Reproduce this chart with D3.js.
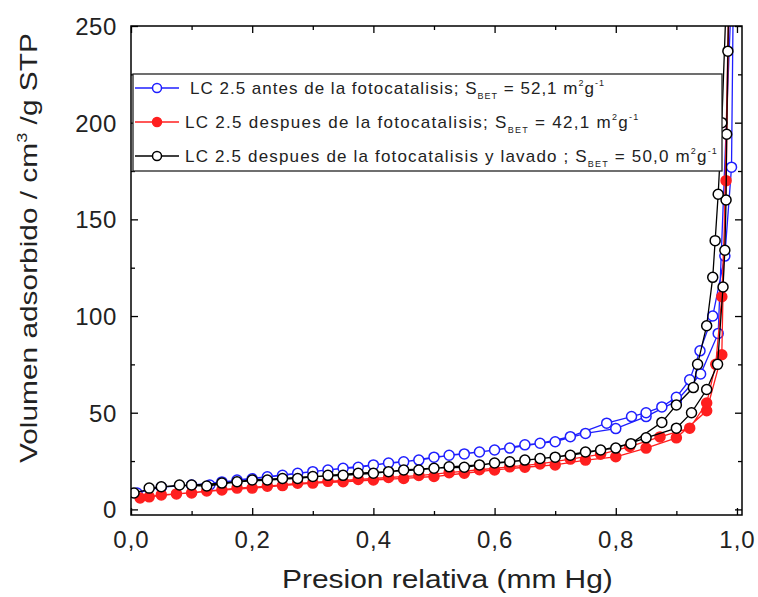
<!DOCTYPE html>
<html><head><meta charset="utf-8">
<script src="https://cdn.jsdelivr.net/npm/d3@7"></script>
<style>body{margin:0;background:#fff}svg{display:block}text{font-family:"Liberation Sans",Arial,sans-serif;fill:#222}</style>
</head><body><svg id="c" width="758" height="597"></svg>
<script>
// ---- data ----
const xTicks = [0, 0.2, 0.4, 0.6, 0.8, 1.0];
const yTicks = [0, 50, 100, 150, 200, 250];
const seriesNames = [
  "LC 2.5 antes de la fotocatalisis; S",
  "LC 2.5  despues de la fotocatalisis; S",
  "LC 2.5 despues de la fotocatalisis y lavado ; S"
];
const seriesBET = ["52,1", "42,1", "50,0"];
const seriesColors = ["#1f1fff", "#ff1f1f", "#000000"];

// blue: before photocatalysis (adsorption then desorption)
const blueP = [0.01,0.05,0.10,0.15,0.20,0.25,0.30,0.35,0.40,0.45,0.50,0.55,0.60,0.65,0.70,0.75,0.80,0.85,0.90,0.94,0.969,0.995,
               0.991,0.98,0.96,0.939,0.922,0.90,0.876,0.85,0.826,0.785,0.725,0.675,0.625,0.575,0.525,0.475,0.425,0.375,0.325,0.275,0.225,0.175,0.13];
const blueV = [8.5,11.5,12.6,14.2,15.8,17.6,19.5,21.3,23.0,24.6,27.0,28.7,30.7,33.4,35.0,39.3,41.8,48.0,56.0,70.0,91.0,300,
               177,131,100,82,67,58,53,50,48,44.6,37.6,34.2,31.7,29.7,28.0,25.5,24.0,21.8,20.4,18.7,16.9,15.2,12.6];
// red: after photocatalysis
const redP = [0.015,0.05,0.10,0.15,0.20,0.25,0.30,0.35,0.40,0.45,0.50,0.55,0.60,0.65,0.70,0.75,0.80,0.85,0.90,0.95,0.975,0.99,
              0.982,0.975,0.965,0.95,0.922,0.873,0.823,0.775,0.725,0.675,0.625,0.575,0.525,0.475,0.425,0.375,0.325,0.275,0.225,0.175,0.125,0.075,0.03];
const redV = [5.9,7.5,8.5,10.0,11.0,12.3,13.6,14.3,15.2,16.0,17.0,18.7,20.4,21.8,23.0,25.5,27.2,31.7,37.0,51.0,80.0,320,
              170,110,75,55,42,37.5,32.5,28.5,26.0,23.5,22.0,20.5,19.0,17.5,16.5,15.5,14.5,13.5,12.0,11.0,9.5,8.0,6.5];
// black: after photocatalysis and washing
const blackP = [0.005,0.05,0.10,0.15,0.20,0.25,0.30,0.35,0.40,0.45,0.50,0.55,0.60,0.65,0.70,0.75,0.80,0.85,0.90,0.925,0.95,0.968,0.977,0.980,0.982,0.983,0.985,0.99,
                0.975,0.969,0.964,0.96,0.95,0.935,0.928,0.90,0.876,0.825,0.775,0.725,0.675,0.625,0.575,0.525,0.475,0.425,0.375,0.325,0.275,0.225,0.175,0.125,0.08,0.03];
const blackV = [8.5,11.7,12.6,13.6,15.2,16.0,17.0,17.6,18.7,20.4,21.3,21.8,24.0,25.5,27.0,29.7,31.7,37.0,42.0,50.0,62.0,75,115,134,160,194,237,330,
                200,163,139,120,95,75,63,54,45,34,30.7,28.0,26.3,24.6,23.0,22.0,20.4,19.5,18.7,17.6,16.0,15.2,14.3,12.1,12.6,11.0];

// ---- chart ----
const svg = d3.select("#c");
const L = 131, R = 742, T = 26, B = 515;
const x = d3.scaleLinear().domain([0, 1.0083]).range([L, R]);
const y = d3.scaleLinear().domain([-2.9, 250]).range([B, T]);

// stretch a text element to a target width with letter spacing
function fitWidth(sel, target) {
  const node = sel.node();
  const n = node.textContent.length;
  const w = node.getComputedTextLength();
  sel.attr("letter-spacing", ((target - w) / n).toFixed(3));
}
// stretch glyphs along the text direction
function stretchTo(sel, target) {
  const w = sel.node().getComputedTextLength();
  return target / w;
}

svg.append("defs").append("clipPath").attr("id","clip")
  .append("rect").attr("x",L).attr("y",T).attr("width",R-L).attr("height",B-T);

const series = [
  {P: blueP, V: blueV, c: seriesColors[0], fill: "#fff"},
  {P: redP, V: redV, c: seriesColors[1], fill: seriesColors[1]},
  {P: blackP, V: blackV, c: seriesColors[2], fill: "#fff"}
];
const line = d3.line().x(d => x(d[0])).y(d => y(d[1]));
const plot = svg.append("g").attr("clip-path","url(#clip)");
series.forEach(s => {
  const pts = s.P.map((p,i) => [p, s.V[i]]);
  plot.append("path").attr("d", line(pts)).attr("fill","none")
    .attr("stroke", s.c).attr("stroke-width", 1.3);
  plot.selectAll(null).data(pts).enter().append("circle")
    .attr("cx", d => x(d[0])).attr("cy", d => y(d[1])).attr("r", 5)
    .attr("fill", s.fill).attr("stroke", s.c).attr("stroke-width", 1.5);
});

// frame
svg.append("rect").attr("x",L).attr("y",T).attr("width",R-L).attr("height",B-T)
  .attr("fill","none").attr("stroke","#000").attr("stroke-width",1.5);

// axes (ticks inward, mirrored)
const fmt = d3.format(".1f");
const xMinor = d3.range(0.1, 1.01, 0.2);
const yMinor = d3.range(25, 250, 50);
function axisX(g, orient) {
  const ax = (orient === "bottom" ? d3.axisBottom(x) : d3.axisTop(x))
    .tickValues(xTicks).tickSizeInner(-7).tickSizeOuter(0)
    .tickFormat(d => orient === "bottom" ? fmt(d).replace(".", ",") : "");
  g.call(ax);
  const axm = (orient === "bottom" ? d3.axisBottom(x) : d3.axisTop(x))
    .tickValues(xMinor).tickSizeInner(-4).tickSizeOuter(0).tickFormat("");
  g.append("g").call(axm);
}
function axisY(g, orient) {
  const ax = (orient === "left" ? d3.axisLeft(y) : d3.axisRight(y))
    .tickValues(yTicks).tickSizeInner(-7).tickSizeOuter(0)
    .tickFormat(d => orient === "left" ? d : "");
  g.call(ax);
  const axm = (orient === "left" ? d3.axisLeft(y) : d3.axisRight(y))
    .tickValues(yMinor).tickSizeInner(-4).tickSizeOuter(0).tickFormat("");
  g.append("g").call(axm);
}
const gb = svg.append("g").attr("transform",`translate(0,${B})`); axisX(gb,"bottom");
const gt = svg.append("g").attr("transform",`translate(0,${T})`); axisX(gt,"top");
const gl = svg.append("g").attr("transform",`translate(${L},0)`); axisY(gl,"left");
const gr = svg.append("g").attr("transform",`translate(${R},0)`); axisY(gr,"right");
svg.selectAll(".domain").remove();
svg.selectAll(".tick line").attr("stroke","#000").attr("stroke-width",1.3);
svg.selectAll(".tick text").style("font-family","'Liberation Sans',Arial,sans-serif").attr("fill","#2a2a2a");
gb.selectAll(".tick text").attr("font-size",24).attr("dy",null).attr("y",33).attr("letter-spacing",1);
gl.selectAll(".tick text").attr("font-size",24).attr("x",-14).attr("dy","0.35em").attr("letter-spacing",0.6);

// axis titles
const xt = svg.append("text").attr("font-size",25).text("Presion relativa (mm Hg)");
const sx = stretchTo(xt, 331);
xt.attr("transform", `translate(282,588) scale(${sx},1)`);

const yl = svg.append("text").attr("font-size",24.5);
yl.append("tspan").text("Volumen adsorbido / cm");
yl.append("tspan").attr("font-size",15).attr("dy",-10).text("3");
yl.append("tspan").attr("dy",10).text(" /g STP");
const sy = stretchTo(yl, 430);
yl.attr("transform", `translate(37,463) rotate(-90) scale(${sy},1)`);

// legend
const lg = svg.append("g");
lg.append("rect").attr("x",133).attr("y",74).attr("width",589).attr("height",97)
  .attr("fill","#fff").attr("stroke","#222").attr("stroke-width",1.3);
const rows = [88, 122, 156];
const textX = [190, 185, 185];
const textEnd = [605, 641, 718];
series.forEach((s,i) => {
  const yy = rows[i];
  lg.append("line").attr("x1",135).attr("x2",179).attr("y1",yy).attr("y2",yy)
    .attr("stroke",s.c).attr("stroke-width",1.5);
  lg.append("circle").attr("cx",157).attr("cy",yy).attr("r",4.5)
    .attr("fill",s.fill).attr("stroke",s.c).attr("stroke-width",1.5);
  const t = lg.append("text").attr("x",textX[i]).attr("y",yy+6).attr("font-size",17);
  t.append("tspan").text(seriesNames[i]);
  t.append("tspan").attr("font-size",9).attr("dy",5).text("BET");
  t.append("tspan").attr("dy",-5).text(" = " + seriesBET[i] + " m");
  t.append("tspan").attr("font-size",9).attr("dy",-8).text("2");
  t.append("tspan").attr("dy",8).text("g");
  t.append("tspan").attr("font-size",9).attr("dy",-8).text("-1");
  fitWidth(t, textEnd[i] - textX[i]);
});
</script></body></html>
